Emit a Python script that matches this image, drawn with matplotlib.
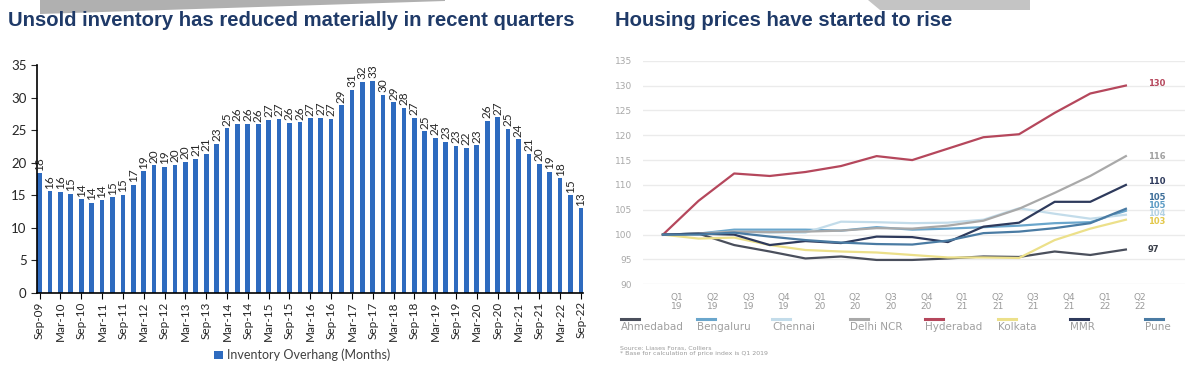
import matplotlib.pyplot as plt
from matplotlib.patches import Polygon
from matplotlib.lines import Line2D

# Inventory overhang (months), quarterly Sep-09 .. Sep-22
overhang = [18.4, 15.6, 15.5, 15.2, 14.4, 13.8, 14.2, 14.7, 15.1, 16.6,
            18.7, 19.6, 19.4, 19.7, 20.1, 20.6, 21.4, 22.9, 25.3, 26.0,
            26.0, 25.9, 26.6, 26.7, 26.1, 26.2, 26.8, 26.9, 26.7, 28.8,
            31.2, 32.4, 32.6, 30.4, 29.3, 28.4, 26.9, 24.8, 23.8, 23.2,
            22.6, 22.3, 22.7, 26.4, 27.0, 25.2, 23.6, 21.4, 19.8, 18.6,
            17.6, 15.0, 13.0]
half_year_labels = ['Sep-09', 'Mar-10', 'Sep-10', 'Mar-11', 'Sep-11', 'Mar-12', 'Sep-12',
                    'Mar-13', 'Sep-13', 'Mar-14', 'Sep-14', 'Mar-15', 'Sep-15', 'Mar-16',
                    'Sep-16', 'Mar-17', 'Sep-17', 'Mar-18', 'Sep-18', 'Mar-19', 'Sep-19',
                    'Mar-20', 'Sep-20', 'Mar-21', 'Sep-21', 'Mar-22', 'Sep-22']

# Housing price index (Q1 2019 = 100)
qtr_labels = ['Q1\n19', 'Q2\n19', 'Q3\n19', 'Q4\n19', 'Q1\n20', 'Q2\n20', 'Q3\n20',
              'Q4\n20', 'Q1\n21', 'Q2\n21', 'Q3\n21', 'Q4\n21', 'Q1\n22', 'Q2\n22']
ahmedabad = [100, 100.2, 97.9, 96.6, 95.2, 95.6, 94.9, 94.9, 95.2, 95.6, 95.5, 96.6, 95.9, 97.0]
bengaluru = [100, 100.2, 101.0, 101.0, 101.0, 100.8, 101.5, 101.0, 101.2, 101.5, 101.8, 102.3, 102.5, 104.8]
chennai = [100, 100.2, 100.6, 100.4, 100.4, 102.6, 102.5, 102.3, 102.4, 103.0, 105.3, 104.2, 103.2, 104.0]
delhi_ncr = [100, 100.2, 100.6, 100.5, 100.6, 100.8, 101.3, 101.2, 101.8, 102.8, 105.2, 108.4, 111.8, 115.8]
hyderabad = [100, 106.8, 112.3, 111.8, 112.6, 113.8, 115.8, 115.0, 117.3, 119.6, 120.2, 124.5, 128.4, 130.0]
kolkata = [100, 99.2, 99.4, 97.9, 96.9, 96.6, 96.4, 95.9, 95.4, 95.4, 95.3, 98.9, 101.2, 103.0]
mmr = [100, 100.2, 100.0, 97.9, 98.7, 98.3, 99.6, 99.5, 98.5, 101.6, 102.4, 106.6, 106.6, 110.0]
pune = [100, 100.0, 100.4, 99.6, 98.9, 98.4, 98.1, 98.0, 98.8, 100.3, 100.6, 101.3, 102.3, 105.2]
cities = ['Ahmedabad', 'Bengaluru', 'Chennai', 'Delhi NCR', 'Hyderabad', 'Kolkata', 'MMR', 'Pune']
series = [ahmedabad, bengaluru, chennai, delhi_ncr, hyderabad, kolkata, mmr, pune]

line_colors = ['#4a4f5c', '#6aa6cc', '#c3dcea', '#a9a9a9', '#b5475c', '#ece08a', '#2e3a5c', '#4a7ba3']
label_colors = ['#3a3f4a', '#5b9bc4', '#b3d1e3', '#a0a0a0', '#b5475c', '#e3c84a', '#2e3a5c', '#3d6e99']
label_nudge = [0.1, 1.1, 0.3, -0.1, 0.5, -0.3, 0.6, 2.3]

title_color = '#1f3a68'

fig = plt.figure(figsize=(12, 3.73), dpi=100)

# grey slide decoration at top
fig.add_artist(Polygon([(40/1200, 1), (445/1200, 1), (445/1200, 1 - 1/373), (40/1200, 1 - 14/373)],
                       closed=True, transform=fig.transFigure, color='#b0b0b0', lw=0))
fig.add_artist(Polygon([(868/1200, 1), (1030/1200, 1), (1030/1200, 1 - 10/373), (880/1200, 1 - 10/373)],
                       closed=True, transform=fig.transFigure, color='#c4c4c4', lw=0))

fig.text(8/1200, 1 - 20/373, 'Unsold inventory has reduced materially in recent quarters',
         fontsize=14.6, fontweight='bold', color=title_color, family='Liberation Sans', va='center')
fig.text(615/1200, 1 - 20/373, 'Housing prices have started to rise',
         fontsize=14.6, fontweight='bold', color=title_color, family='Liberation Sans', va='center')

# ---- left: bar chart
ax1 = fig.add_axes([37/1200, 1 - 293/373, 546/1200, 228/373])
x = list(range(len(overhang)))
bars = ax1.bar(x, overhang, width=0.45, color='#2e6bbf', label='Inventory Overhang (Months)')
for xi, v in zip(x, overhang):
    ax1.text(xi, v + 0.4, f'{v:.0f}', rotation=90, ha='center', va='bottom',
             fontsize=8.5, color='#262626', family='Lato')
ax1.set_xlim(-0.25, 52.2)
ax1.set_ylim(0, 35)
ax1.set_yticks(range(0, 36, 5))
ax1.set_xticks(x[::2])
ax1.set_xticklabels(half_year_labels, rotation=90, fontsize=8.5, family='Lato', color='#262626')
ax1.tick_params(axis='y', labelsize=9.5, colors='#262626', length=4)
ax1.tick_params(axis='x', length=4, pad=2)
for lab in ax1.get_yticklabels():
    lab.set_family('Lato')
for s in ['top', 'right']:
    ax1.spines[s].set_visible(False)
ax1.spines['left'].set_linewidth(1.2)
ax1.spines['bottom'].set_linewidth(1.2)
fig.legend(handles=[bars], loc='center', bbox_to_anchor=(302/1200, 1 - 355/373), frameon=False,
           prop={'family': 'Lato', 'size': 9}, handlelength=0.7, handleheight=0.7, handletextpad=0.3,
           labelcolor='#404040')

# ---- right: line chart
ax2 = fig.add_axes([643/1200, 1 - 284.3/373, 542/1200, 223.6/373])
qx = list(range(len(qtr_labels)))
for s, c in zip(series, line_colors):
    ax2.plot(qx, s, color=c, lw=1.6, solid_joinstyle='round')
for s, c, dy in zip(series, label_colors, label_nudge):
    ax2.text(13.62, s[-1] + dy, f'{s[-1]:.0f}', color=c, fontsize=6, fontweight='bold',
             va='center', ha='left')
ax2.set_xlim(-0.56, 14.66)
ax2.set_ylim(90, 135)
ax2.set_yticks(range(90, 136, 5))
ax2.grid(axis='y', color='#ebebeb', lw=1)
ax2.set_axisbelow(True)
ax2.set_xticks([q + 0.4 for q in qx])
ax2.set_xticklabels(qtr_labels, fontsize=6.5, color='#9a9a9a', linespacing=1.0)
ax2.tick_params(axis='x', length=0, pad=6)
ax2.tick_params(axis='y', length=0, labelsize=6.5, labelcolor='#a8a8a8', pad=8)
for s in ax2.spines.values():
    s.set_visible(False)

# legend for the line chart (short line above the name)
legend_x = [621, 697, 772, 850, 925, 998, 1070, 1145]
for lx, name, c in zip(legend_x, cities, line_colors):
    fig.add_artist(Line2D([lx/1200, (lx + 18)/1200], [1 - 319/373] * 2, color=c, lw=2.2,
                          transform=fig.transFigure))
    fig.text(lx/1200, 1 - 327/373, name, fontsize=7.5, color='#a0a0a0', va='center', ha='left')

fig.text(620/1200, 1 - 348/373, 'Source: Liases Foras, Colliers', fontsize=4.5, color='#9a9a9a', va='center')
fig.text(620/1200, 1 - 354/373, '* Base for calculation of price index is Q1 2019', fontsize=4.5,
         color='#9a9a9a', va='center')

fig.savefig('out.png', dpi=100)
